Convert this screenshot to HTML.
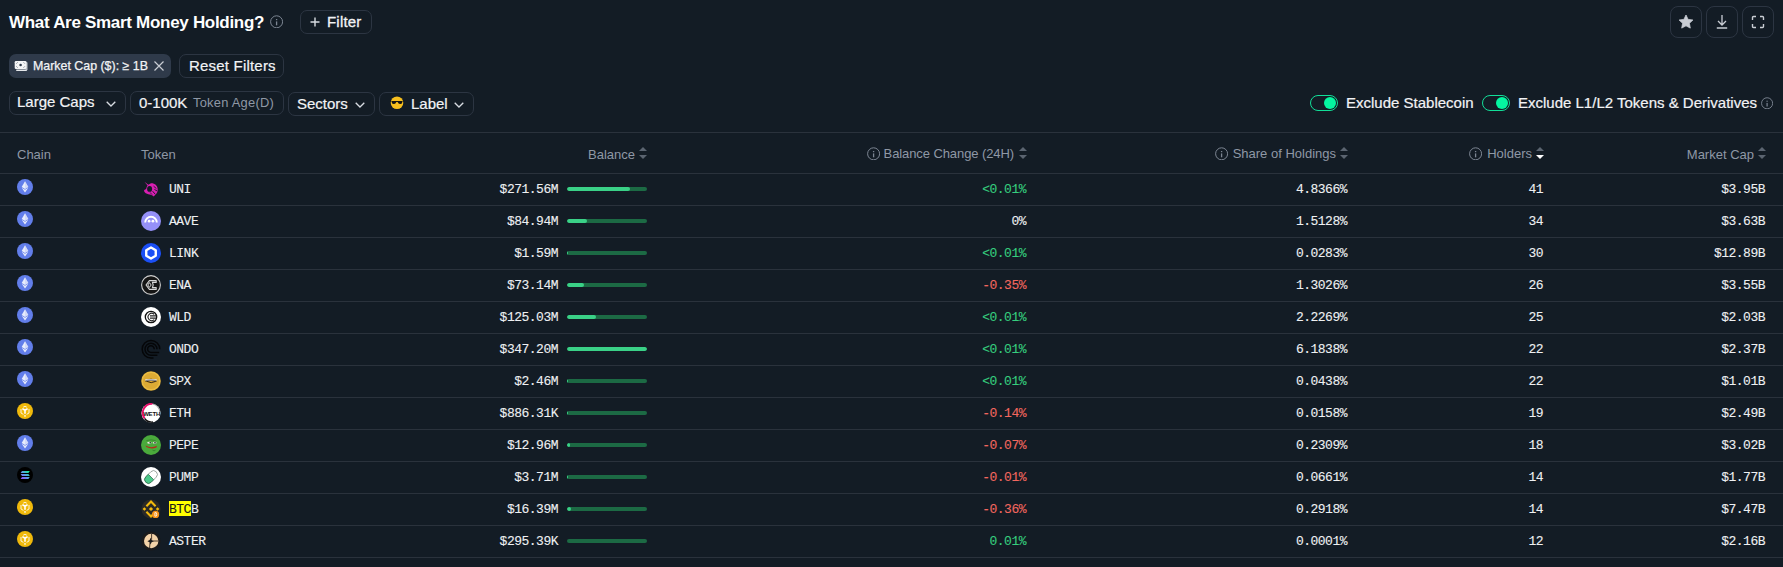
<!DOCTYPE html>
<html><head><meta charset="utf-8"><title>Smart Money Holdings</title><style>
*{margin:0;padding:0;box-sizing:border-box}
html,body{width:1783px;height:567px;overflow:hidden;background:#131c25;}
body{position:relative;font-family:"Liberation Sans",sans-serif;color:#eef0f2;}
.ab{position:absolute;display:block}
.t{position:absolute;white-space:nowrap;line-height:1}
.box{position:absolute;border:1px solid #2c3542;border-radius:7px}
.mono{font-family:"Liberation Mono",monospace;font-size:13px;letter-spacing:-0.5px;-webkit-text-stroke:0.1px currentColor}
.hl{position:absolute;height:1px;left:0;width:1783px;background:#2a323c}
</style></head>
<body>
<div class="t" style="left:9px;top:14px;font-size:17px;font-weight:700;letter-spacing:-0.3px;color:#ffffff">What Are Smart Money Holding?</div>
<svg class="ab" style="left:270px;top:15px" width="13" height="13" viewBox="0 0 13 13"><circle cx="6.6" cy="6.8" r="6" fill="none" stroke="#7d8693" stroke-width="1"/><rect x="5.95" y="6.4" width="1.3" height="3.9" fill="#7d8693"/><rect x="5.95" y="4" width="1.3" height="1.2" fill="#7d8693"/></svg>
<div class="box" style="left:300px;top:10px;width:72px;height:24px;border-radius:7px"></div>
<svg class="ab" style="left:310px;top:17px" width="10" height="10" viewBox="0 0 10 10"><path d="M5 0.5 V9.5 M0.5 5 H9.5" stroke="#d8dce2" stroke-width="1.4"/></svg>
<div class="t" style="left:327px;top:14px;font-size:15px;color:#f2f3f5;-webkit-text-stroke:0.3px #f2f3f5;letter-spacing:0.2px">Filter</div>
<div class="box" style="left:1670px;top:6px;width:32px;height:32px;border-radius:8px"></div>
<div class="box" style="left:1706px;top:6px;width:32px;height:32px;border-radius:8px"></div>
<div class="box" style="left:1742px;top:6px;width:32px;height:32px;border-radius:8px"></div>
<svg class="ab" style="left:1678px;top:14px" width="16" height="16" viewBox="0 0 16 16"><path d="M8 1 L10.1 5.4 L14.9 6 L11.4 9.3 L12.3 14.1 L8 11.8 L3.7 14.1 L4.6 9.3 L1.1 6 L5.9 5.4 Z" fill="#c9cdd4" stroke="#c9cdd4" stroke-width="0.8" stroke-linejoin="round"/></svg>
<svg class="ab" style="left:1714px;top:14px" width="16" height="16" viewBox="0 0 16 16"><path d="M8 1 V10.5 M4 7 L8 11 L12 7 M2.8 14 H13.2" fill="none" stroke="#c9cdd4" stroke-width="1.3"/></svg>
<svg class="ab" style="left:1750px;top:14px" width="16" height="16" viewBox="0 0 16 16"><path d="M2.5 6 V3.5 Q2.5 2.5 3.5 2.5 H6 M10 2.5 H12.5 Q13.5 2.5 13.5 3.5 V6 M13.5 10 V12.5 Q13.5 13.5 12.5 13.5 H10 M6 13.5 H3.5 Q2.5 13.5 2.5 12.5 V10" fill="none" stroke="#c9cdd4" stroke-width="1.4"/></svg>
<div class="ab" style="left:9px;top:54px;width:162px;height:24px;border-radius:7px;background:#2f3a4a"></div>
<svg class="ab" style="left:14px;top:60px" width="15" height="12" viewBox="0 0 15 12"><rect x="11.6" y="2.2" width="2" height="8" rx="0.6" fill="#aab0b8"/><rect x="2.2" y="9.6" width="10.6" height="1.4" rx="0.5" fill="#e6e8eb"/><rect x="0.7" y="0.9" width="11.8" height="8.2" rx="1.3" fill="#f4f5f7"/><circle cx="6.6" cy="5" r="1.3" fill="#2f3a4a"/><path d="M2.4 3.6 L3.6 2.4 M10.8 3.6 L9.6 2.4 M2.4 6.4 L3.6 7.6 M10.8 6.4 L9.6 7.6" stroke="#2f3a4a" stroke-width="0.6"/></svg>
<div class="t" style="left:33px;top:60px;font-size:12.4px;color:#f2f3f5;-webkit-text-stroke:0.25px #f2f3f5">Market Cap ($): ≥ 1B</div>
<svg class="ab" style="left:154px;top:61px" width="10" height="10" viewBox="0 0 10 10"><path d="M0.5 0.5 L9.5 9.5 M9.5 0.5 L0.5 9.5" stroke="#c9cdd4" stroke-width="1.2"/></svg>
<div class="box" style="left:179px;top:54px;width:105px;height:24px"></div>
<div class="t" style="left:189px;top:58px;font-size:15px;letter-spacing:0.2px;color:#f2f3f5;-webkit-text-stroke:0.2px #f2f3f5">Reset Filters</div>
<div class="box" style="left:9px;top:91px;width:117px;height:24px"></div>
<div class="t" style="left:17px;top:94px;font-size:15px;color:#f2f3f5;-webkit-text-stroke:0.2px #f2f3f5">Large Caps</div>
<svg class="ab" style="left:106px;top:101px" width="10" height="6" viewBox="0 0 10 6"><path d="M0.7 0.7 L5 5 L9.3 0.7" fill="none" stroke="#d8dce2" stroke-width="1.3"/></svg>
<div class="box" style="left:130px;top:91px;width:154px;height:24px"></div>
<div class="t" style="left:139px;top:95px;font-size:15px;color:#f2f3f5;-webkit-text-stroke:0.2px #f2f3f5">0-100K</div>
<div class="t" style="left:193px;top:97px;font-size:12.9px;letter-spacing:0.25px;color:#8f98a5">Token Age(D)</div>
<div class="box" style="left:288px;top:92px;width:87px;height:24px"></div>
<div class="t" style="left:297px;top:96px;font-size:15px;color:#f2f3f5;-webkit-text-stroke:0.2px #f2f3f5">Sectors</div>
<svg class="ab" style="left:355px;top:102px" width="10" height="6" viewBox="0 0 10 6"><path d="M0.7 0.7 L5 5 L9.3 0.7" fill="none" stroke="#d8dce2" stroke-width="1.3"/></svg>
<div class="box" style="left:379px;top:92px;width:95px;height:24px"></div>
<svg class="ab" style="left:389px;top:95px" width="16" height="16" viewBox="0 0 16 16"><circle cx="8" cy="7.8" r="6.3" fill="#f7bf1e"/><path d="M2.4 6.1 H13.6 L13.4 6.9 Q12.9 9.3 10.9 9.1 Q9.4 8.9 8.6 7.1 H7.4 Q6.6 8.9 5.1 9.1 Q3.1 9.3 2.6 6.9 Z" fill="#141414"/></svg>
<div class="t" style="left:411px;top:96px;font-size:15px;color:#f2f3f5;-webkit-text-stroke:0.2px #f2f3f5">Label</div>
<svg class="ab" style="left:454px;top:102px" width="10" height="6" viewBox="0 0 10 6"><path d="M0.7 0.7 L5 5 L9.3 0.7" fill="none" stroke="#d8dce2" stroke-width="1.3"/></svg>
<div class="ab" style="left:1310px;top:95px;width:28px;height:16px;border-radius:8px;border:1.5px solid #12de98"></div>
<div class="ab" style="left:1324px;top:97px;width:12px;height:12px;border-radius:6px;background:#05f5a0"></div>
<div class="ab" style="left:1482px;top:95px;width:28px;height:16px;border-radius:8px;border:1.5px solid #12de98"></div>
<div class="ab" style="left:1496px;top:97px;width:12px;height:12px;border-radius:6px;background:#05f5a0"></div>
<div class="t" style="left:1346px;top:95px;font-size:15px;color:#f2f3f5;-webkit-text-stroke:0.2px #f2f3f5">Exclude Stablecoin</div>
<div class="t" style="left:1518px;top:95px;font-size:15px;color:#f2f3f5;-webkit-text-stroke:0.2px #f2f3f5">Exclude L1/L2 Tokens &amp; Derivatives</div>
<svg class="ab" style="left:1761px;top:97px" width="12" height="12" viewBox="0 0 13 13"><circle cx="6.6" cy="6.8" r="6" fill="none" stroke="#7d8693" stroke-width="1"/><rect x="5.95" y="6.4" width="1.3" height="3.9" fill="#7d8693"/><rect x="5.95" y="4" width="1.3" height="1.2" fill="#7d8693"/></svg>
<div class="hl" style="top:132px"></div>
<div class="hl" style="top:173px"></div>
<div class="hl" style="top:205px"></div>
<div class="hl" style="top:237px"></div>
<div class="hl" style="top:269px"></div>
<div class="hl" style="top:301px"></div>
<div class="hl" style="top:333px"></div>
<div class="hl" style="top:365px"></div>
<div class="hl" style="top:397px"></div>
<div class="hl" style="top:429px"></div>
<div class="hl" style="top:461px"></div>
<div class="hl" style="top:493px"></div>
<div class="hl" style="top:525px"></div>
<div class="hl" style="top:557px"></div>
<div class="t" style="left:17px;top:148px;font-size:13px;color:#8f98a5">Chain</div>
<div class="t" style="left:141px;top:148px;font-size:13px;color:#8f98a5">Token</div>
<div class="t" style="right:1148px;top:148px;font-size:13px;color:#8f98a5">Balance</div>
<svg class="ab" style="left:639px;top:147px" width="8" height="12" viewBox="0 0 8 12"><path d="M4 0 L8 4 L0 4 Z" fill="#5b6470"/><path d="M0 8 L8 8 L4 12 Z" fill="#5b6470"/></svg>
<svg class="ab" style="left:867px;top:147px" width="13" height="13" viewBox="0 0 13 13"><circle cx="6.6" cy="6.8" r="6" fill="none" stroke="#7d8693" stroke-width="1"/><rect x="5.95" y="6.4" width="1.3" height="3.9" fill="#7d8693"/><rect x="5.95" y="4" width="1.3" height="1.2" fill="#7d8693"/></svg>
<div class="t" style="right:769px;top:147px;font-size:13px;letter-spacing:-0.09px;color:#8f98a5">Balance Change (24H)</div>
<svg class="ab" style="left:1019px;top:147px" width="8" height="12" viewBox="0 0 8 12"><path d="M4 0 L8 4 L0 4 Z" fill="#5b6470"/><path d="M0 8 L8 8 L4 12 Z" fill="#5b6470"/></svg>
<svg class="ab" style="left:1215px;top:147px" width="13" height="13" viewBox="0 0 13 13"><circle cx="6.6" cy="6.8" r="6" fill="none" stroke="#7d8693" stroke-width="1"/><rect x="5.95" y="6.4" width="1.3" height="3.9" fill="#7d8693"/><rect x="5.95" y="4" width="1.3" height="1.2" fill="#7d8693"/></svg>
<div class="t" style="right:447px;top:147px;font-size:13px;color:#8f98a5">Share of Holdings</div>
<svg class="ab" style="left:1340px;top:147px" width="8" height="12" viewBox="0 0 8 12"><path d="M4 0 L8 4 L0 4 Z" fill="#5b6470"/><path d="M0 8 L8 8 L4 12 Z" fill="#5b6470"/></svg>
<svg class="ab" style="left:1469px;top:147px" width="13" height="13" viewBox="0 0 13 13"><circle cx="6.6" cy="6.8" r="6" fill="none" stroke="#7d8693" stroke-width="1"/><rect x="5.95" y="6.4" width="1.3" height="3.9" fill="#7d8693"/><rect x="5.95" y="4" width="1.3" height="1.2" fill="#7d8693"/></svg>
<div class="t" style="right:251px;top:147px;font-size:13px;color:#8f98a5">Holders</div>
<svg class="ab" style="left:1536px;top:147px" width="8" height="12" viewBox="0 0 8 12"><path d="M4 0 L8 4 L0 4 Z" fill="#5b6470"/><path d="M0 8 L8 8 L4 12 Z" fill="#ffffff"/></svg>
<div class="t" style="right:29px;top:148px;font-size:13px;color:#8f98a5">Market Cap</div>
<svg class="ab" style="left:1758px;top:147px" width="8" height="12" viewBox="0 0 8 12"><path d="M4 0 L8 4 L0 4 Z" fill="#5b6470"/><path d="M0 8 L8 8 L4 12 Z" fill="#5b6470"/></svg>
<svg class="ab" style="left:17px;top:179px" width="16" height="16" viewBox="0 0 16 16"><circle cx="8" cy="8" r="8" fill="#627eea"/><path d="M8 2.2 L11.3 8.1 L8 10 L4.7 8.1 Z" fill="#fff" fill-opacity="0.85"/><path d="M8 10.8 L11.3 8.8 L8 13.6 L4.7 8.8 Z" fill="#fff" fill-opacity="0.85"/><path d="M8 2.2 L8 10 L11.3 8.1 Z" fill="#c8d0f5" fill-opacity="0.6"/></svg>
<svg class="ab" style="left:141px;top:179px" width="20" height="20" viewBox="0 0 20 20"><path d="M3.4 2.8 L7.4 5.8 C8.6 4.6 10.4 4 12.2 4.4 C13.8 4.8 15.2 5.8 16 7.4 C16.9 9.2 17 11.4 16.2 13.2 C15.6 14.6 14.6 15.6 13.6 16.4 L12.8 17.6 C12 16.8 11 16.2 9.8 15.8 C8.2 15.4 6.4 15.2 4.8 14.2 C3.6 13.4 2.8 12.2 3.2 11 C4 10.6 4.8 10.2 5.4 9.4 C5.6 8.2 6 7 6.6 6.4 Z" fill="#d81fb2"/><ellipse cx="8.6" cy="9.9" rx="2.5" ry="2.9" fill="#131c25"/><path d="M11.6 12.2 L14.2 15.2 M12.6 7.2 L15.4 9.6 M13.4 10.4 L16.2 12" stroke="#131c25" stroke-width="0.9"/><path d="M9 13.4 L11 15.6" stroke="#131c25" stroke-width="0.7"/></svg>
<div class="t mono" style="left:169px;top:183px;color:#eef0f2">UNI</div>
<div class="t mono" style="right:1225px;top:183px;color:#eef0f2">$271.56M</div>
<div class="ab" style="left:567px;top:187px;width:80px;height:4px;border-radius:2px;background:#1c6a44;overflow:hidden"><div style="width:62.6px;height:4px;background:#3ad187;border-radius:2px"></div></div>
<div class="t mono" style="right:757px;top:183px;color:#36cd7e">&lt;0.01%</div>
<div class="t mono" style="right:436px;top:183px;color:#eef0f2">4.8366%</div>
<div class="t mono" style="right:240px;top:183px;color:#eef0f2">41</div>
<div class="t mono" style="right:18px;top:183px;color:#eef0f2">$3.95B</div>
<svg class="ab" style="left:17px;top:211px" width="16" height="16" viewBox="0 0 16 16"><circle cx="8" cy="8" r="8" fill="#627eea"/><path d="M8 2.2 L11.3 8.1 L8 10 L4.7 8.1 Z" fill="#fff" fill-opacity="0.85"/><path d="M8 10.8 L11.3 8.8 L8 13.6 L4.7 8.8 Z" fill="#fff" fill-opacity="0.85"/><path d="M8 2.2 L8 10 L11.3 8.1 Z" fill="#c8d0f5" fill-opacity="0.6"/></svg>
<svg class="ab" style="left:141px;top:211px" width="20" height="20" viewBox="0 0 20 20"><circle cx="10" cy="10" r="10" fill="#9590f8"/><path d="M4.2 11.6 A5.8 5.8 0 0 1 15.8 11.6" fill="none" stroke="#fff" stroke-width="1.9"/><circle cx="8.1" cy="10.2" r="1.35" fill="#fff"/><circle cx="11.9" cy="10.2" r="1.35" fill="#fff"/></svg>
<div class="t mono" style="left:169px;top:215px;color:#eef0f2">AAVE</div>
<div class="t mono" style="right:1225px;top:215px;color:#eef0f2">$84.94M</div>
<div class="ab" style="left:567px;top:219px;width:80px;height:4px;border-radius:2px;background:#1c6a44;overflow:hidden"><div style="width:19.6px;height:4px;background:#3ad187;border-radius:2px"></div></div>
<div class="t mono" style="right:757px;top:215px;color:#eef0f2">0%</div>
<div class="t mono" style="right:436px;top:215px;color:#eef0f2">1.5128%</div>
<div class="t mono" style="right:240px;top:215px;color:#eef0f2">34</div>
<div class="t mono" style="right:18px;top:215px;color:#eef0f2">$3.63B</div>
<svg class="ab" style="left:17px;top:243px" width="16" height="16" viewBox="0 0 16 16"><circle cx="8" cy="8" r="8" fill="#627eea"/><path d="M8 2.2 L11.3 8.1 L8 10 L4.7 8.1 Z" fill="#fff" fill-opacity="0.85"/><path d="M8 10.8 L11.3 8.8 L8 13.6 L4.7 8.8 Z" fill="#fff" fill-opacity="0.85"/><path d="M8 2.2 L8 10 L11.3 8.1 Z" fill="#c8d0f5" fill-opacity="0.6"/></svg>
<svg class="ab" style="left:141px;top:243px" width="20" height="20" viewBox="0 0 20 20"><circle cx="10" cy="10" r="10" fill="#1b4ff5"/><path d="M10 4.5 L14.76 7.25 L14.76 12.75 L10 15.5 L5.24 12.75 L5.24 7.25 Z" fill="none" stroke="#fff" stroke-width="2.4" stroke-linejoin="round"/></svg>
<div class="t mono" style="left:169px;top:247px;color:#eef0f2">LINK</div>
<div class="t mono" style="right:1225px;top:247px;color:#eef0f2">$1.59M</div>
<div class="ab" style="left:567px;top:251px;width:80px;height:4px;border-radius:2px;background:#1c6a44;overflow:hidden"><div style="width:0.4px;height:4px;background:#3ad187;border-radius:2px"></div></div>
<div class="t mono" style="right:757px;top:247px;color:#36cd7e">&lt;0.01%</div>
<div class="t mono" style="right:436px;top:247px;color:#eef0f2">0.0283%</div>
<div class="t mono" style="right:240px;top:247px;color:#eef0f2">30</div>
<div class="t mono" style="right:18px;top:247px;color:#eef0f2">$12.89B</div>
<svg class="ab" style="left:17px;top:275px" width="16" height="16" viewBox="0 0 16 16"><circle cx="8" cy="8" r="8" fill="#627eea"/><path d="M8 2.2 L11.3 8.1 L8 10 L4.7 8.1 Z" fill="#fff" fill-opacity="0.85"/><path d="M8 10.8 L11.3 8.8 L8 13.6 L4.7 8.8 Z" fill="#fff" fill-opacity="0.85"/><path d="M8 2.2 L8 10 L11.3 8.1 Z" fill="#c8d0f5" fill-opacity="0.6"/></svg>
<svg class="ab" style="left:141px;top:275px" width="20" height="20" viewBox="0 0 20 20"><circle cx="10" cy="10" r="9.4" fill="#151515" stroke="#cfcfcf" stroke-width="1.1"/><path d="M15.2 5.6 H8.4 L5 10 L8.4 14.4 H15.2 V12.6 H11.4 L12.2 10 L11.4 7.4 H15.2 Z" fill="none" stroke="#d6d6d6" stroke-width="1.1" stroke-linejoin="round"/><path d="M8.4 7.6 L10.2 10 L8.4 12.4 L6.8 10 Z" fill="none" stroke="#d6d6d6" stroke-width="1"/></svg>
<div class="t mono" style="left:169px;top:279px;color:#eef0f2">ENA</div>
<div class="t mono" style="right:1225px;top:279px;color:#eef0f2">$73.14M</div>
<div class="ab" style="left:567px;top:283px;width:80px;height:4px;border-radius:2px;background:#1c6a44;overflow:hidden"><div style="width:16.8px;height:4px;background:#3ad187;border-radius:2px"></div></div>
<div class="t mono" style="right:757px;top:279px;color:#f2675f">-0.35%</div>
<div class="t mono" style="right:436px;top:279px;color:#eef0f2">1.3026%</div>
<div class="t mono" style="right:240px;top:279px;color:#eef0f2">26</div>
<div class="t mono" style="right:18px;top:279px;color:#eef0f2">$3.55B</div>
<svg class="ab" style="left:17px;top:307px" width="16" height="16" viewBox="0 0 16 16"><circle cx="8" cy="8" r="8" fill="#627eea"/><path d="M8 2.2 L11.3 8.1 L8 10 L4.7 8.1 Z" fill="#fff" fill-opacity="0.85"/><path d="M8 10.8 L11.3 8.8 L8 13.6 L4.7 8.8 Z" fill="#fff" fill-opacity="0.85"/><path d="M8 2.2 L8 10 L11.3 8.1 Z" fill="#c8d0f5" fill-opacity="0.6"/></svg>
<svg class="ab" style="left:141px;top:307px" width="20" height="20" viewBox="0 0 20 20"><circle cx="10" cy="10" r="10" fill="#fff"/><circle cx="10" cy="10" r="5.7" fill="none" stroke="#111" stroke-width="1.3"/><path d="M13.2 7.4 A3.6 3.6 0 1 0 13.2 12.6" fill="none" stroke="#222" stroke-width="1.1"/><path d="M9 8.9 H15.4 M9 11.1 H15.4" stroke="#222" stroke-width="1.1"/></svg>
<div class="t mono" style="left:169px;top:311px;color:#eef0f2">WLD</div>
<div class="t mono" style="right:1225px;top:311px;color:#eef0f2">$125.03M</div>
<div class="ab" style="left:567px;top:315px;width:80px;height:4px;border-radius:2px;background:#1c6a44;overflow:hidden"><div style="width:28.8px;height:4px;background:#3ad187;border-radius:2px"></div></div>
<div class="t mono" style="right:757px;top:311px;color:#36cd7e">&lt;0.01%</div>
<div class="t mono" style="right:436px;top:311px;color:#eef0f2">2.2269%</div>
<div class="t mono" style="right:240px;top:311px;color:#eef0f2">25</div>
<div class="t mono" style="right:18px;top:311px;color:#eef0f2">$2.03B</div>
<svg class="ab" style="left:17px;top:339px" width="16" height="16" viewBox="0 0 16 16"><circle cx="8" cy="8" r="8" fill="#627eea"/><path d="M8 2.2 L11.3 8.1 L8 10 L4.7 8.1 Z" fill="#fff" fill-opacity="0.85"/><path d="M8 10.8 L11.3 8.8 L8 13.6 L4.7 8.8 Z" fill="#fff" fill-opacity="0.85"/><path d="M8 2.2 L8 10 L11.3 8.1 Z" fill="#c8d0f5" fill-opacity="0.6"/></svg>
<svg class="ab" style="left:141px;top:339px" width="20" height="20" viewBox="0 0 20 20"><g fill="none" stroke="#050608" stroke-width="1.5"><path d="M13.2 10.2 A3.3 3.3 0 1 0 10 13.4 H18.2"/><path d="M16 10.2 A6 6 0 1 0 10 16.2 H16.4"/><path d="M18.8 10.2 A8.8 8.8 0 1 0 10 19 H12.5"/></g></svg>
<div class="t mono" style="left:169px;top:343px;color:#eef0f2">ONDO</div>
<div class="t mono" style="right:1225px;top:343px;color:#eef0f2">$347.20M</div>
<div class="ab" style="left:567px;top:347px;width:80px;height:4px;border-radius:2px;background:#1c6a44;overflow:hidden"><div style="width:80px;height:4px;background:#3ad187;border-radius:2px"></div></div>
<div class="t mono" style="right:757px;top:343px;color:#36cd7e">&lt;0.01%</div>
<div class="t mono" style="right:436px;top:343px;color:#eef0f2">6.1838%</div>
<div class="t mono" style="right:240px;top:343px;color:#eef0f2">22</div>
<div class="t mono" style="right:18px;top:343px;color:#eef0f2">$2.37B</div>
<svg class="ab" style="left:17px;top:371px" width="16" height="16" viewBox="0 0 16 16"><circle cx="8" cy="8" r="8" fill="#627eea"/><path d="M8 2.2 L11.3 8.1 L8 10 L4.7 8.1 Z" fill="#fff" fill-opacity="0.85"/><path d="M8 10.8 L11.3 8.8 L8 13.6 L4.7 8.8 Z" fill="#fff" fill-opacity="0.85"/><path d="M8 2.2 L8 10 L11.3 8.1 Z" fill="#c8d0f5" fill-opacity="0.6"/></svg>
<svg class="ab" style="left:141px;top:371px" width="20" height="20" viewBox="0 0 20 20"><circle cx="10" cy="10" r="9.8" fill="#e6b43a"/><circle cx="10" cy="10" r="8.6" fill="#dcaa34" stroke="#f0c850" stroke-width="0.6"/><path d="M4.2 9.6 Q10 6 15.8 9.6 L15.4 10.8 Q10 9.4 4.6 10.8 Z" fill="#2a2218"/><path d="M4.4 8.2 L15.6 8.2 L16 9.6 L4 9.6 Z" fill="#e8e8e8"/><path d="M6 10.4 Q10 13 14.6 10.4" fill="none" stroke="#3a2a14" stroke-width="1"/></svg>
<div class="t mono" style="left:169px;top:375px;color:#eef0f2">SPX</div>
<div class="t mono" style="right:1225px;top:375px;color:#eef0f2">$2.46M</div>
<div class="ab" style="left:567px;top:379px;width:80px;height:4px;border-radius:2px;background:#1c6a44;overflow:hidden"><div style="width:0.6px;height:4px;background:#3ad187;border-radius:2px"></div></div>
<div class="t mono" style="right:757px;top:375px;color:#36cd7e">&lt;0.01%</div>
<div class="t mono" style="right:436px;top:375px;color:#eef0f2">0.0438%</div>
<div class="t mono" style="right:240px;top:375px;color:#eef0f2">22</div>
<div class="t mono" style="right:18px;top:375px;color:#eef0f2">$1.01B</div>
<svg class="ab" style="left:17px;top:403px" width="16" height="16" viewBox="0 0 16 16"><circle cx="8" cy="8" r="8" fill="#f0b90b"/><path d="M4 6 V10 L6.4 11.4 M9.6 11.4 L12 10 V6 M6.2 4.2 L8 3.3 L9.8 4.2" fill="none" stroke="#fff" stroke-width="1" opacity="0.85"/><path d="M5.4 5.6 L8 7.2 L10.6 5.6 M8 7.2 V10.8" fill="none" stroke="#fff" stroke-width="1.6"/><rect x="7" y="12.4" width="2" height="1.1" fill="#fff"/></svg>
<svg class="ab" style="left:141px;top:403px" width="20" height="20" viewBox="0 0 20 20"><circle cx="10" cy="10" r="9.6" fill="#fff"/><path d="M11.5 0.8 A9.2 9.2 0 0 0 3.6 15.5" fill="none" stroke="#e5106a" stroke-width="2"/><path d="M3.6 15.5 A9.2 9.2 0 0 0 12 19" fill="none" stroke="#111" stroke-width="1.4"/><path d="M12 1 A9.2 9.2 0 0 1 19 10" fill="none" stroke="#9a9a9a" stroke-width="1"/><text x="10.6" y="12.6" font-family="Liberation Sans" font-weight="700" font-size="6" text-anchor="middle" fill="#111" letter-spacing="-0.2">WETH</text></svg>
<div class="t mono" style="left:169px;top:407px;color:#eef0f2">ETH</div>
<div class="t mono" style="right:1225px;top:407px;color:#eef0f2">$886.31K</div>
<div class="ab" style="left:567px;top:411px;width:80px;height:4px;border-radius:2px;background:#1c6a44;overflow:hidden"><div style="width:0.2px;height:4px;background:#3ad187;border-radius:2px"></div></div>
<div class="t mono" style="right:757px;top:407px;color:#f2675f">-0.14%</div>
<div class="t mono" style="right:436px;top:407px;color:#eef0f2">0.0158%</div>
<div class="t mono" style="right:240px;top:407px;color:#eef0f2">19</div>
<div class="t mono" style="right:18px;top:407px;color:#eef0f2">$2.49B</div>
<svg class="ab" style="left:17px;top:435px" width="16" height="16" viewBox="0 0 16 16"><circle cx="8" cy="8" r="8" fill="#627eea"/><path d="M8 2.2 L11.3 8.1 L8 10 L4.7 8.1 Z" fill="#fff" fill-opacity="0.85"/><path d="M8 10.8 L11.3 8.8 L8 13.6 L4.7 8.8 Z" fill="#fff" fill-opacity="0.85"/><path d="M8 2.2 L8 10 L11.3 8.1 Z" fill="#c8d0f5" fill-opacity="0.6"/></svg>
<svg class="ab" style="left:141px;top:435px" width="20" height="20" viewBox="0 0 20 20"><circle cx="10" cy="10" r="10" fill="#4aaa3c"/><path d="M5.4 5.6 Q10 4 14.6 5.6" fill="none" stroke="#3a8a30" stroke-width="1"/><ellipse cx="8.4" cy="7.8" rx="2.2" ry="1" fill="#e8eadc"/><ellipse cx="13.6" cy="7.8" rx="2" ry="1" fill="#d8dccc"/><circle cx="9.2" cy="7.8" r="0.8" fill="#222"/><circle cx="14" cy="7.8" r="0.8" fill="#222"/><path d="M4.6 10.6 Q10 13.6 16 10.8 L15.4 12.6 Q10 14.6 5.4 12 Z" fill="#b8281a"/><path d="M11.5 15.2 Q13 16.5 14.5 15.2" fill="none" stroke="#2f7a28" stroke-width="0.8"/></svg>
<div class="t mono" style="left:169px;top:439px;color:#eef0f2">PEPE</div>
<div class="t mono" style="right:1225px;top:439px;color:#eef0f2">$12.96M</div>
<div class="ab" style="left:567px;top:443px;width:80px;height:4px;border-radius:2px;background:#1c6a44;overflow:hidden"><div style="width:3.0px;height:4px;background:#3ad187;border-radius:2px"></div></div>
<div class="t mono" style="right:757px;top:439px;color:#f2675f">-0.07%</div>
<div class="t mono" style="right:436px;top:439px;color:#eef0f2">0.2309%</div>
<div class="t mono" style="right:240px;top:439px;color:#eef0f2">18</div>
<div class="t mono" style="right:18px;top:439px;color:#eef0f2">$3.02B</div>
<svg class="ab" style="left:17px;top:467px" width="16" height="16" viewBox="0 0 16 16"><defs><linearGradient id="solg" gradientUnits="userSpaceOnUse" x1="4" y1="12" x2="12" y2="4"><stop offset="0" stop-color="#9945ff"/><stop offset="0.5" stop-color="#5a9ce8"/><stop offset="1" stop-color="#14f195"/></linearGradient></defs><circle cx="8" cy="8" r="8" fill="#000"/><path d="M5 3.9 H12.8 L11.4 5.9 H3.6 Z M3.6 7 H11.4 L12.8 9 H5 Z M5 10 H12.8 L11.4 12 H3.6 Z" fill="url(#solg)"/></svg>
<svg class="ab" style="left:141px;top:467px" width="20" height="20" viewBox="0 0 20 20"><circle cx="10" cy="10" r="10" fill="#fff"/><g transform="rotate(-45 10 10)"><rect x="2.6" y="6.2" width="14.8" height="7.6" rx="3.8" fill="#fff" stroke="#7c8a82" stroke-width="0.7"/><path d="M10 6.2 H6.4 A3.8 3.8 0 0 0 6.4 13.8 H10 Z" fill="#4cc98a" stroke="#2c6a4a" stroke-width="0.7"/></g></svg>
<div class="t mono" style="left:169px;top:471px;color:#eef0f2">PUMP</div>
<div class="t mono" style="right:1225px;top:471px;color:#eef0f2">$3.71M</div>
<div class="ab" style="left:567px;top:475px;width:80px;height:4px;border-radius:2px;background:#1c6a44;overflow:hidden"><div style="width:0.85px;height:4px;background:#3ad187;border-radius:2px"></div></div>
<div class="t mono" style="right:757px;top:471px;color:#f2675f">-0.01%</div>
<div class="t mono" style="right:436px;top:471px;color:#eef0f2">0.0661%</div>
<div class="t mono" style="right:240px;top:471px;color:#eef0f2">14</div>
<div class="t mono" style="right:18px;top:471px;color:#eef0f2">$1.77B</div>
<svg class="ab" style="left:17px;top:499px" width="16" height="16" viewBox="0 0 16 16"><circle cx="8" cy="8" r="8" fill="#f0b90b"/><path d="M4 6 V10 L6.4 11.4 M9.6 11.4 L12 10 V6 M6.2 4.2 L8 3.3 L9.8 4.2" fill="none" stroke="#fff" stroke-width="1" opacity="0.85"/><path d="M5.4 5.6 L8 7.2 L10.6 5.6 M8 7.2 V10.8" fill="none" stroke="#fff" stroke-width="1.6"/><rect x="7" y="12.4" width="2" height="1.1" fill="#fff"/></svg>
<svg class="ab" style="left:141px;top:499px" width="20" height="20" viewBox="0 0 20 20"><circle cx="10" cy="10" r="9.6" fill="#2b2a27"/><path d="M5.4 7.2 L10 2.6 L14.6 7.2 M5.4 12.8 L10 17.4 L14.6 12.8" fill="none" stroke="#f3ba0c" stroke-width="2.1"/><path d="M3.4 8.2 L5.2 10 L3.4 11.8 L1.6 10 Z M16.6 8.2 L18.4 10 L16.6 11.8 L14.8 10 Z M10 7.9 L12.1 10 L10 12.1 L7.9 10 Z" fill="#f3ba0c"/><circle cx="14.6" cy="15.4" r="3.6" fill="#f7931a"/><path d="M13.9 13.6 H15.1 Q16.2 13.9 15.3 15 Q16.5 15.6 15.2 17.1 H13.9 Z" fill="none" stroke="#fff" stroke-width="0.8"/></svg>
<div class="ab" style="left:169px;top:501px;width:22px;height:15px;background:#ffff00"></div>
<div class="t mono" style="left:169px;top:503px;color:#eef0f2"><span style="color:#1a1a1a">BTC</span>B</div>
<div class="t mono" style="right:1225px;top:503px;color:#eef0f2">$16.39M</div>
<div class="ab" style="left:567px;top:507px;width:80px;height:4px;border-radius:2px;background:#1c6a44;overflow:hidden"><div style="width:3.8px;height:4px;background:#3ad187;border-radius:2px"></div></div>
<div class="t mono" style="right:757px;top:503px;color:#f2675f">-0.36%</div>
<div class="t mono" style="right:436px;top:503px;color:#eef0f2">0.2918%</div>
<div class="t mono" style="right:240px;top:503px;color:#eef0f2">14</div>
<div class="t mono" style="right:18px;top:503px;color:#eef0f2">$7.47B</div>
<svg class="ab" style="left:17px;top:531px" width="16" height="16" viewBox="0 0 16 16"><circle cx="8" cy="8" r="8" fill="#f0b90b"/><path d="M4 6 V10 L6.4 11.4 M9.6 11.4 L12 10 V6 M6.2 4.2 L8 3.3 L9.8 4.2" fill="none" stroke="#fff" stroke-width="1" opacity="0.85"/><path d="M5.4 5.6 L8 7.2 L10.6 5.6 M8 7.2 V10.8" fill="none" stroke="#fff" stroke-width="1.6"/><rect x="7" y="12.4" width="2" height="1.1" fill="#fff"/></svg>
<svg class="ab" style="left:141px;top:531px" width="20" height="20" viewBox="0 0 20 20"><circle cx="10" cy="10" r="9.6" fill="#1c1b1b"/><circle cx="10.2" cy="10" r="7.2" fill="#f4d3a8"/><path d="M10.6 2.8 V8.6 M11.4 10 H17.4 M9 11.4 L8.6 17" stroke="#3a2c22" stroke-width="0.9"/><path d="M9.6 6.8 Q10 9.6 12.8 10.2 Q10 10.6 9.6 13.4 Q9.2 10.6 6.4 10.2 Q9.2 9.6 9.6 6.8 Z" fill="#1c1b1b"/></svg>
<div class="t mono" style="left:169px;top:535px;color:#eef0f2">ASTER</div>
<div class="t mono" style="right:1225px;top:535px;color:#eef0f2">$295.39K</div>
<div class="ab" style="left:567px;top:539px;width:80px;height:4px;border-radius:2px;background:#1c6a44;overflow:hidden"><div style="width:0.07px;height:4px;background:#3ad187;border-radius:2px"></div></div>
<div class="t mono" style="right:757px;top:535px;color:#36cd7e">0.01%</div>
<div class="t mono" style="right:436px;top:535px;color:#eef0f2">0.0001%</div>
<div class="t mono" style="right:240px;top:535px;color:#eef0f2">12</div>
<div class="t mono" style="right:18px;top:535px;color:#eef0f2">$2.16B</div>
</body></html>
